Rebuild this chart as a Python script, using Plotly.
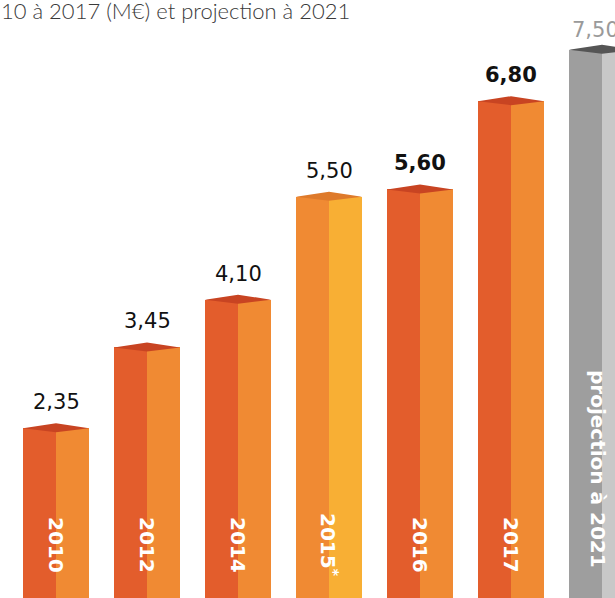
import plotly.graph_objects as go

# ---- data ----
years = ["2010", "2012", "2014", "2015<sup>*</sup>", "2016", "2017", "projection à 2021"]
values = [2.35, 3.45, 4.10, 5.50, 5.60, 6.80, 7.50]
kinds = ["base", "base", "base", "estim", "base", "base", "proj"]
bold_value = [False, False, False, False, True, True, False]
title_text = "10 à 2017 (M€) et projection à 2021"

# ---- styles ----
W, H = 615, 598
X0_PX, STEP_PX = 56, 91.0      # centre of first bar, spacing
HALF_PX = 33                   # half bar width
ZERO_PX, PX_PER_UNIT = 601, 73.5
BACK_PX, FRONT_PX = 5, 4

palette = {
    "base": ("#E35D2C", "#F08A33", "#C84422"),
    "estim": ("#F08A33", "#F8AF34", "#DE7A2B"),
    "proj": ("#9E9E9E", "#C8C8C8", "#555555"),
}

x_lo = -X0_PX / STEP_PX
x_hi = (W - X0_PX) / STEP_PX
y_lo = (ZERO_PX - H) / PX_PER_UNIT
y_hi = ZERO_PX / PX_PER_UNIT
hw = HALF_PX / STEP_PX

xs = list(range(len(values)))

fig = go.Figure()
fig.add_trace(go.Bar(
    x=xs, y=values, width=hw, offset=-hw,
    marker=dict(color=[palette[k][0] for k in kinds], line=dict(width=0)),
    hoverinfo="skip", showlegend=False))
fig.add_trace(go.Bar(
    x=xs, y=values, width=hw, offset=0,
    marker=dict(color=[palette[k][1] for k in kinds], line=dict(width=0)),
    hoverinfo="skip", showlegend=False))

shapes = []
dyb = BACK_PX / PX_PER_UNIT
dyf = FRONT_PX / PX_PER_UNIT
for i, (v, k) in enumerate(zip(values, kinds)):
    path = (f"M {i - hw},{v} L {i},{v + dyb} L {i + hw},{v} "
            f"L {i},{v - dyf} Z")
    shapes.append(dict(type="path", path=path, xref="x", yref="y",
                       fillcolor=palette[k][2], line=dict(width=0), layer="above"))

annotations = []
for i, (v, k, b) in enumerate(zip(values, kinds, bold_value)):
    txt = f"{v:.2f}".replace(".", ",")
    if b:
        txt = f"<b>{txt}</b>"
    color = "#9A9A9A" if k == "proj" else "#111111"
    annotations.append(dict(
        x=i, y=v, xref="x", yref="y", text=txt, showarrow=False,
        yanchor="middle", xanchor="center",
        yshift=(20 if k == "proj" else 26), xshift=(-7 if k == "proj" else 0),
        font=dict(family="DejaVu Sans", size=21, color=color)))

for i, (lab, k) in enumerate(zip(years, kinds)):
    if k == "proj":
        yc, xs_ = 469, -4
        fnt = dict(family="DejaVu Sans", size=20, color="white")
    else:
        yc, xs_ = 545, 0
        fnt = dict(family="DejaVu Sans", size=20, color="white")
    annotations.append(dict(
        x=i, y=1 - yc / H, xref="x", yref="paper", text=f"<b>{lab}</b>",
        showarrow=False, textangle=90, xanchor="center", yanchor="middle",
        xshift=xs_, font=fnt))

annotations.append(dict(
    x=0, y=1, xref="paper", yref="paper", text=title_text, showarrow=False,
    xanchor="left", yanchor="top", yshift=5, xshift=-1,
    font=dict(family="Lato", size=22, color="#3A3A3A", weight=300)))

fig.update_layout(
    width=W, height=H,
    margin=dict(l=0, r=0, t=0, b=0),
    paper_bgcolor="white", plot_bgcolor="white",
    barmode="overlay", bargap=0,
    xaxis=dict(range=[x_lo, x_hi], visible=False, fixedrange=True),
    yaxis=dict(range=[y_lo, y_hi], visible=False, fixedrange=True),
    shapes=shapes, annotations=annotations,
    showlegend=False,
)

fig.write_html("out.html")
